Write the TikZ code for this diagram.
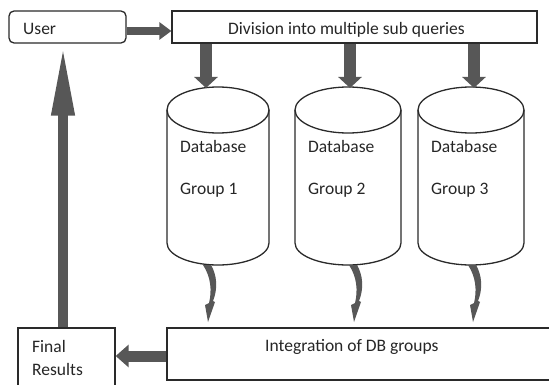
\documentclass[tikz,border=0pt]{standalone}
\usepackage{fontspec}
\setmainfont{Carlito}
\usetikzlibrary{arrows.meta,calc}
\definecolor{arrowgray}{HTML}{575757}
\definecolor{linecol}{HTML}{2A2A2A}
\definecolor{textcol}{HTML}{262626}
\begin{document}
\begin{tikzpicture}[x=1pt,y=-1pt,
  box/.style={draw=linecol, line width=1.3pt, inner sep=0pt, fill=white},
  cyl/.style={draw=linecol, line width=1.3pt},
  lbl/.style={anchor=base west, inner sep=0pt, text=textcol, font=\fontsize{17.5}{20}\selectfont},
  blk/.style={draw=arrowgray, color=arrowgray}]
\useasboundingbox (0,0) rectangle (549,385);
% boxes
\node[box, rounded corners=5pt, minimum width=117pt, minimum height=32pt] (user) at (67.5,27) {};
\node[box, minimum width=365pt, minimum height=32pt] (div) at (354.5,27) {};
\node[box, minimum width=97pt, minimum height=64pt] (final) at (66.5,360) {};
\node[box, minimum width=392pt, minimum height=52pt] (integ) at (363,354) {};
% cylinders
\foreach \cx/\rx/\n in {218/51/1, 348/53/2, 471/53/3} {
  \draw[cyl] (\cx-\rx,110) -- (\cx-\rx,243) arc[start angle=180, end angle=0, x radius=\rx, y radius=22] -- (\cx+\rx,110);
  \draw[cyl] (\cx,110) ellipse[x radius=\rx, y radius=23];
}
% texts
\node[lbl] (tuser) at (23,35) {User};
\node[lbl] (tdiv) at (228,35) {Division into multiple sub queries};
\node[lbl] (tdb1) at (180,153) {Database};
\node[lbl] (tgr1) at (180,194) {Group 1};
\node[lbl] (tdb2) at (308,153) {Database};
\node[lbl] (tgr2) at (308,194) {Group 2};
\node[lbl] (tdb3) at (431,153) {Database};
\node[lbl] (tgr3) at (431,194) {Group 3};
\node[lbl] (tint) at (265,351) {Integration of DB groups};
\node[lbl] (tfin) at (32,352) {Final};
\node[lbl] (tres) at (32,375) {Results};
% connectors
\coordinate (a1) at (0,31);
\draw[blk, line width=8pt, -{Triangle[width=17pt,length=12pt]}] (user.east |- a1) -- (div.west |- a1);
\foreach \x/\n in {206/1, 350/2, 474/3} {
  \coordinate (dbtop\n) at (\x,88);
  \draw[blk, line width=12pt, -{Triangle[width=23pt,length=11pt]}] (div.south -| dbtop\n) -- (dbtop\n);
}
\foreach \x/\n in {207/1, 353/2, 472/3} {
  \coordinate (dbbot\n) at (\x,265);
  \fill[arrowgray, shift={(dbbot\n)}] (-4,0) -- (4,0) .. controls (10,10) and (11,24) .. (6,36) -- (8,37) -- (1,57) -- (-2,40) -- (2,38) .. controls (5,26) and (4,12) .. (-4,0) -- cycle;
}
\coordinate (ly) at (0,356);
\draw[blk, line width=11pt, -{Triangle[width=22pt,length=13pt]}] (integ.west |- ly) -- (final.east |- ly);
\coordinate (ux) at (63,0);
\draw[blk, line width=10pt, -{Triangle[width=21pt,length=72pt]}] (final.north -| ux) -- (user.south -| ux);
\end{tikzpicture}
\end{document}
